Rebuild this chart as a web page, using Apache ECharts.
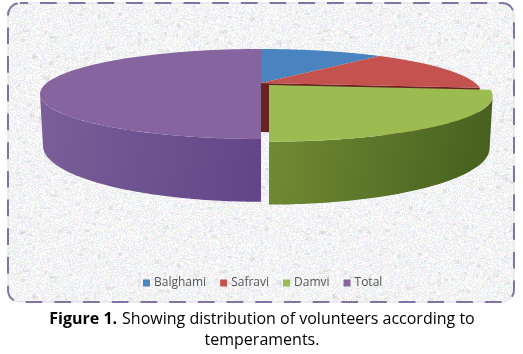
<!DOCTYPE html>
<html>
<head>
<meta charset="utf-8">
<style>
  html, body { margin: 0; padding: 0; background: #fff; }
  #chart { width: 523px; height: 354px; }
</style>
</head>
<body>
<div id="chart"></div>
<script src="https://cdn.jsdelivr.net/npm/echarts@6/dist/echarts.min.js"></script>
<script>
// values, share of the whole pie in percent
const categories = ['Balghami', 'Safravi', 'Damvi', 'Total'];
const values = [11.4, 15.3, 23.3, 50];

const topColors = ['#4a84c0', '#c4524e', '#9cbc52', '#85649f'];
const wallColors = [null, '#6a2222', null, null];
const sideColors = [null, null, ['#728c34', '#47601f'], ['#7a5f99', '#624688']];

// tilted pie: same projection for top and bottom face, different plane
const persp = 0.2444;
const topFace = { cx: 261, cy: 83, ax: 214.3, ky: 42.3 };
const bottomFace = { cx: 261, cy: 132, ax: 211.4, ky: 52.7 };
const explodedIndex = 2;
const explode = { dx: 8, dy: 2, scale: 1.012 };

// the side wall only shows between the widest points of the ellipse
const sideFrom = Math.PI - Math.acos(persp);
const sideTo = Math.PI * 2 - sideFrom;

const total = values.reduce((a, b) => a + b, 0);

function project(face, angle, radius, off) {
    const u = Math.sin(angle) * radius;
    const v = Math.cos(angle) * radius;
    const w = 1 + persp * v;
    return [
        face.cx + off.dx + face.ax * off.scale * u / w,
        face.cy + off.dy - face.ky * off.scale * v / w
    ];
}

function arc(face, a0, a1, off) {
    const pts = [];
    const n = 80;
    for (let i = 0; i <= n; i++) {
        pts.push(project(face, a0 + (a1 - a0) * i / n, 1, off));
    }
    return pts;
}

function renderSlice(params) {
    const idx = params.seriesIndex;
    let sum = 0;
    for (let i = 0; i < idx; i++) sum += values[i];
    const a0 = sum / total * Math.PI * 2;
    const a1 = (sum + values[idx]) / total * Math.PI * 2;
    const off = idx === explodedIndex ? explode : { dx: 0, dy: 0, scale: 1 };
    const children = [];

    // inner cut wall of the slice next to the pulled out one
    if (wallColors[idx]) {
        children.push({
            type: 'polygon',
            shape: { points: [
                project(topFace, a1, 0, off), project(topFace, a1, 1, off),
                project(bottomFace, a1, 1, off), project(bottomFace, a1, 0, off)
            ] },
            style: { fill: wallColors[idx] }
        });
    }
    if (sideColors[idx]) {
        const side = sideColors[idx];
        const s0 = Math.max(a0, sideFrom);
        const s1 = Math.min(a1, sideTo);
        children.push({
            type: 'polygon',
            shape: { points: arc(topFace, s0, s1, off).concat(arc(bottomFace, s1, s0, off)) },
            style: {
                fill: new echarts.graphic.LinearGradient(0, 0, 1, 0.3, [
                    { offset: 0, color: side[0] },
                    { offset: 1, color: side[1] }
                ])
            }
        });
    }
    children.push({
        type: 'polygon',
        shape: { points: [project(topFace, a0, 0, off)].concat(arc(topFace, a0, a1, off)) },
        style: { fill: topColors[idx] }
    });
    return { type: 'group', children: children };
}

// speckled paper behind the chart
function makePaper() {
    const c = document.createElement('canvas');
    c.width = 300;
    c.height = 240;
    const ctx = c.getContext('2d');
    const tones = ['#ffffff', '#f8eef6', '#eaf0fa', '#eff8ec', '#f7f2e6', '#e4e7ee', '#f3e8f3', '#fcfcfc', '#e6f2f4', '#ffffff'];
    let s = 20231;
    const next = () => {
        s ^= s << 13; s ^= s >>> 17; s ^= s << 5;
        return (s >>> 0) / 4294967296;
    };
    for (let y = 0; y < c.height; y++) {
        for (let x = 0; x < c.width; x++) {
            ctx.fillStyle = tones[Math.floor(next() * tones.length)];
            ctx.fillRect(x, y, 1, 1);
        }
    }
    ctx.fillStyle = 'rgba(185,185,185,0.22)';
    for (let i = 0; i < 420; i++) {
        ctx.fillRect(Math.floor(next() * c.width), Math.floor(next() * c.height), 2 + Math.floor(next() * 4), 1 + Math.floor(next() * 4));
    }
    return c;
}

const chart = echarts.init(document.getElementById('chart'), null, { renderer: 'canvas' });

chart.setOption({
    animation: false,
    legend: {
        left: 143,
        top: 277,
        padding: 0,
        itemWidth: 7,
        itemHeight: 7,
        itemGap: 14,
        icon: 'rect',
        textStyle: { fontFamily: 'Open Sans', fontSize: 12, color: '#555', padding: [0, 0, 0, -1] },
        data: categories
    },
    title: {
        left: 262,
        top: 309,
        padding: 0,
        textAlign: 'center',
        text: '{b|Figure 1.} {n|Showing distribution of volunteers according to}\n{n|temperaments.}',
        textStyle: {
            rich: {
                b: { fontFamily: 'Open Sans', fontSize: 16, fontWeight: 'bold', color: '#000', lineHeight: 21 },
                n: { fontFamily: 'Open Sans', fontSize: 16, fontWeight: 'normal', color: '#000', lineHeight: 21 }
            }
        }
    },
    graphic: [
        {
            type: 'rect',
            z: -2,
            silent: true,
            shape: { x: 8, y: 3, width: 506, height: 299, r: 12 },
            style: { fill: { image: makePaper(), repeat: 'repeat' }, stroke: '#dcdcdc', lineWidth: 1 }
        },
        {
            type: 'rect',
            z: -1,
            silent: true,
            shape: { x: 8, y: 3, width: 506, height: 299, r: 12 },
            style: { fill: null, stroke: '#8273a6', lineWidth: 2, lineDash: [16.7, 12], lineDashOffset: 8.7 }
        }
    ],
    series: categories.map((name, i) => ({
        name: name,
        type: 'custom',
        coordinateSystem: 'none',
        z: i === explodedIndex ? 5 : (i === 3 ? 4 : 3),
        silent: true,
        itemStyle: { color: topColors[i] },
        renderItem: renderSlice,
        data: [[values[i]]]
    }))
});
</script>
</body>
</html>
